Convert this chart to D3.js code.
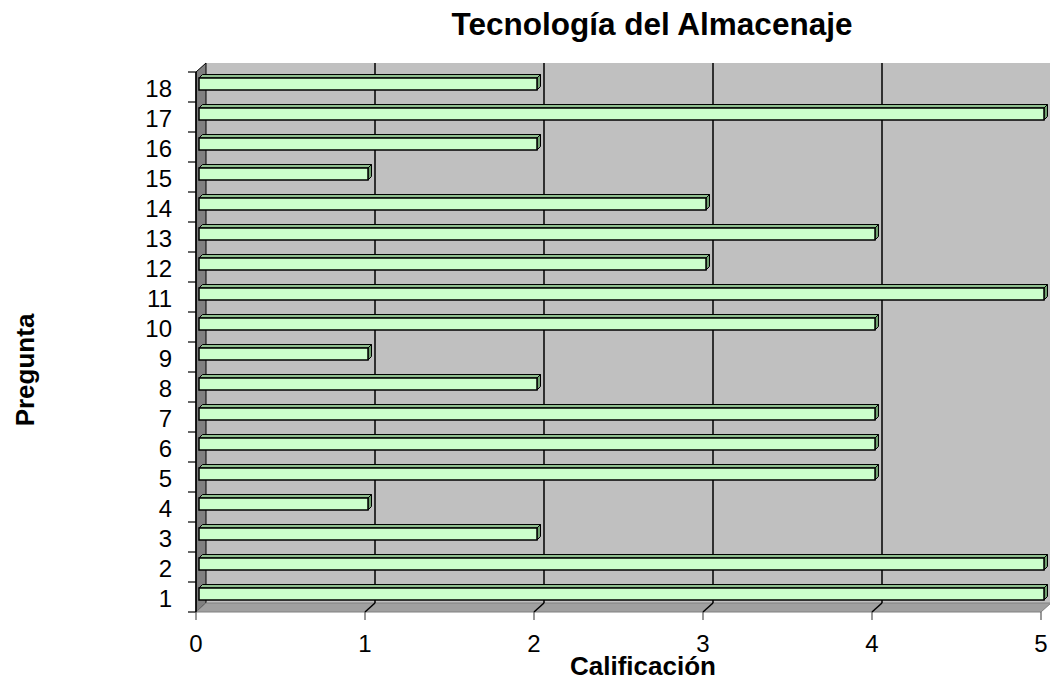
<!DOCTYPE html>
<html>
<head>
<meta charset="utf-8">
<script src="https://cdn.jsdelivr.net/npm/d3@7"></script>
<style>
  html, body { margin: 0; padding: 0; background: #fff; }
  svg { display: block; font-family: Arial, "Liberation Sans", sans-serif; }
</style>
</head>
<body>
<script>
// datos
const categories = ['1','2','3','4','5','6','7','8','9','10','11','12','13','14','15','16','17','18'];
const values     = [5, 5, 2, 1, 4, 4, 4, 2, 1, 4, 5, 3, 4, 3, 1, 2, 5, 2];
const xTicks     = [0, 1, 2, 3, 4, 5];
const titleText  = 'Tecnología del Almacenaje';
const xTitle     = 'Calificación';
const yTitle     = 'Pregunta';

const W = 1050, H = 681;
const DX = 10, DY = -9;        // profundidad de las paredes
const BX = 3.5, BY = -3.5;     // profundidad de las barras

const svg = d3.select('body').append('svg')
  .attr('width', W).attr('height', H);

const x = d3.scaleLinear().domain([0, 5]).range([196, 1041]);
const y = d3.scaleBand().domain(categories.slice().reverse()).range([72, 612]);
const yTop = 72, yBot = 612;

const poly = pts => 'M' + pts.map(p => p.join(',')).join('L') + 'Z';

// pared del fondo
svg.append('path')
  .attr('d', poly([[x(0)+DX, yTop+DY], [x(5)+DX, yTop+DY], [x(5)+DX, yBot+DY], [x(0)+DX, yBot+DY]]))
  .attr('fill', '#c0c0c0');

// pared lateral
svg.append('path')
  .attr('d', poly([[x(0), yTop], [x(0)+DX, yTop+DY], [x(0)+DX, yBot+DY], [x(0), yBot]]))
  .attr('fill', '#808080').attr('stroke', '#000').attr('stroke-width', 1);

// piso
svg.append('path')
  .attr('d', poly([[x(0), yBot], [x(0)+DX, yBot+DY], [x(5)+DX, yBot+DY], [x(5), yBot]]))
  .attr('fill', '#a0a0a0').attr('stroke', '#808080').attr('stroke-width', 1);

// lineas de cuadricula
svg.append('g').selectAll('line')
  .data(xTicks.slice(1))
  .enter().append('line')
    .attr('x1', d => x(d)+DX).attr('x2', d => x(d)+DX)
    .attr('y1', yTop+DY).attr('y2', yBot+DY)
    .attr('stroke', '#000').attr('stroke-width', 1.5);
svg.append('g').selectAll('line')
  .data(xTicks.slice(1, 5))
  .enter().append('line')
    .attr('x1', d => x(d)+DX).attr('y1', yBot+DY)
    .attr('x2', d => x(d)).attr('y2', yBot)
    .attr('stroke', '#000').attr('stroke-width', 1.5);

// barras 3D
const bars = svg.append('g').selectAll('g')
  .data(categories.map((c, i) => ({cat: c, value: values[i]})))
  .enter().append('g');

bars.each(function(d) {
  const g = d3.select(this);
  const x0 = x(0) + 3, x1 = x(d.value) + 3;
  const y0 = y(d.cat) + 6, y1 = y(d.cat) + 18;
  g.append('path') // cara superior
    .attr('d', poly([[x0, y0], [x0+BX, y0+BY], [x1+BX, y0+BY], [x1, y0]]))
    .attr('fill', '#8fbf8f').attr('stroke', '#000').attr('stroke-width', 1);
  g.append('path') // extremo
    .attr('d', poly([[x1, y0], [x1+BX, y0+BY], [x1+BX, y1+BY], [x1, y1]]))
    .attr('fill', '#70a070').attr('stroke', '#000').attr('stroke-width', 1);
  g.append('rect') // frente
    .attr('x', x0).attr('y', y0).attr('width', x1 - x0).attr('height', y1 - y0)
    .attr('fill', '#ccffcc').attr('stroke', '#000').attr('stroke-width', 1.5);
});

// eje vertical
svg.append('line')
  .attr('x1', x(0)).attr('x2', x(0)).attr('y1', yTop).attr('y2', yBot)
  .attr('stroke', '#000').attr('stroke-width', 1.5);
svg.append('g').selectAll('line')
  .data(d3.range(categories.length + 1))
  .enter().append('line')
    .attr('x1', x(0) - 8).attr('x2', x(0))
    .attr('y1', i => yTop + i * y.step()).attr('y2', i => yTop + i * y.step())
    .attr('stroke', '#000').attr('stroke-width', 1.2);
svg.append('g').selectAll('text')
  .data(categories)
  .enter().append('text')
    .attr('x', 172)
    .attr('y', d => y(d) + y.bandwidth() / 2 + 10)
    .attr('text-anchor', 'end')
    .style('font-size', '24px')
    .text(d => d);

// eje horizontal
svg.append('g').selectAll('line')
  .data(xTicks)
  .enter().append('line')
    .attr('x1', d => x(d)).attr('x2', d => x(d))
    .attr('y1', yBot).attr('y2', yBot + 8)
    .attr('stroke', '#555').attr('stroke-width', 1.2);
svg.append('g').selectAll('text')
  .data(xTicks)
  .enter().append('text')
    .attr('x', d => x(d))
    .attr('y', 652)
    .attr('text-anchor', 'middle')
    .style('font-size', '24px')
    .text(d => d);

// titulos
svg.append('text')
  .attr('x', 652).attr('y', 35)
  .attr('text-anchor', 'middle')
  .style('font-size', '31.5px').style('font-weight', 'bold')
  .text(titleText);
svg.append('text')
  .attr('x', 643).attr('y', 675)
  .attr('text-anchor', 'middle')
  .style('font-size', '26px').style('font-weight', 'bold')
  .text(xTitle);
svg.append('text')
  .attr('transform', 'translate(34,370) rotate(-90)')
  .attr('text-anchor', 'middle')
  .style('font-size', '26px').style('font-weight', 'bold')
  .text(yTitle);
</script>
</body>
</html>
